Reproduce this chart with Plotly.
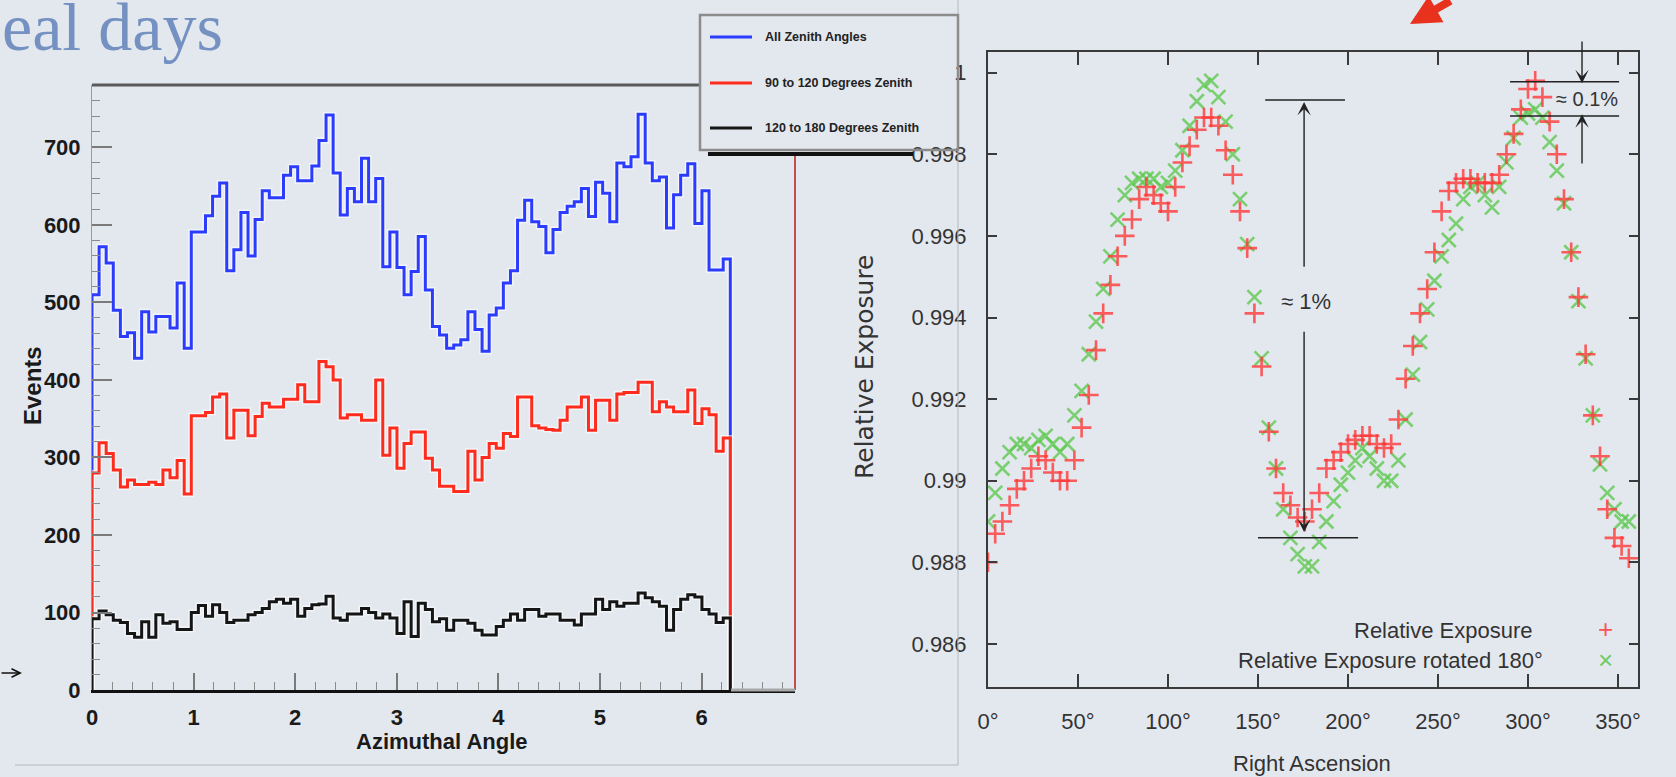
import numpy as np
import plotly.graph_objects as go

W, H = 1676, 777


def px(x):
    return x / W


def py(y):
    return 1 - y / H


# ---------------- Left chart: azimuthal histograms (90 bins over 0..2pi) ----------------
N_BINS = 90
AZ_MAX = 2 * np.pi

events_all = [
    510, 572, 551, 490, 456, 461, 428, 488, 462, 482,
    482, 467, 525, 441, 591, 591, 612, 637, 654, 541,
    568, 616, 560, 607, 644, 635, 635, 664, 675, 657,
    657, 676, 709, 742, 667, 613, 647, 630, 686, 630,
    660, 546, 591, 545, 510, 540, 585, 516, 469, 458,
    441, 445, 452, 488, 465, 437, 484, 493, 525, 541,
    606, 632, 604, 598, 564, 594, 616, 624, 630, 647,
    611, 655, 641, 604, 680, 675, 688, 743, 680, 657,
    662, 596, 639, 664, 679, 602, 644, 542, 542, 556,
]
events_90_120 = [
    280, 319, 305, 284, 262, 271, 265, 265, 268, 265,
    284, 274, 296, 253, 354, 354, 358, 378, 382, 325,
    361, 361, 328, 353, 370, 365, 365, 375, 375, 394,
    372, 372, 424, 417, 400, 351, 355, 355, 348, 348,
    400, 303, 338, 286, 318, 333, 333, 299, 284, 263,
    263, 256, 256, 308, 271, 300, 318, 312, 331, 327,
    378, 378, 341, 338, 336, 335, 348, 365, 365, 378,
    335, 374, 374, 348, 382, 384, 384, 397, 397, 359,
    372, 365, 359, 359, 387, 344, 363, 355, 308, 325,
]
events_120_180 = [
    92, 102, 97, 90, 87, 73, 68, 88, 68, 97,
    86, 88, 78, 78, 100, 109, 95, 110, 100, 87,
    90, 90, 97, 100, 105, 114, 117, 112, 117, 95,
    105, 110, 111, 121, 93, 90, 98, 98, 105, 100,
    93, 98, 93, 73, 114, 69, 112, 104, 88, 92,
    77, 90, 90, 86, 77, 71, 71, 82, 90, 98,
    90, 104, 104, 95, 98, 98, 90, 90, 84, 98,
    98, 117, 104, 114, 108, 112, 112, 125, 119, 114,
    108, 77, 104, 117, 123, 120, 104, 98, 87, 93,
]
hist_names = ["All Zenith Angles", "90 to 120 Degrees Zenith", "120 to 180 Degrees Zenith"]
hist_colors = ["#2b3cff", "#ff2b1c", "#151515"]

# ---------------- Right chart: relative exposure vs right ascension ----------------
ra_deg = list(range(0, 360, 4))
rel_exposure = [
    0.9880, 0.9887, 0.9890, 0.9894, 0.9898, 0.9900, 0.9903, 0.9906, 0.9905, 0.9902,
    0.9900, 0.9900, 0.9905, 0.9913, 0.9921, 0.9932, 0.9941, 0.9948, 0.9955, 0.9960,
    0.9964, 0.9969, 0.9972, 0.9970, 0.9968, 0.9966, 0.9972, 0.9978, 0.9982, 0.9986,
    0.9989, 0.9989, 0.9987, 0.9981, 0.9975, 0.9966, 0.9957, 0.9941, 0.9928, 0.9912,
    0.9903, 0.9897, 0.9894, 0.9891, 0.9890, 0.9893, 0.9897, 0.9903, 0.9905, 0.9907,
    0.9909, 0.9910, 0.9911, 0.9911, 0.9909, 0.9908, 0.9909, 0.9915, 0.9925, 0.9933,
    0.9941, 0.9947, 0.9956, 0.9966, 0.9971, 0.9973, 0.9974, 0.9974, 0.9973, 0.9973,
    0.9973, 0.9975, 0.9980, 0.9985, 0.9991, 0.9996, 0.9998, 0.9994, 0.9988, 0.9980,
    0.9969, 0.9956, 0.9945, 0.9931, 0.9916, 0.9906, 0.9893, 0.9886, 0.9884, 0.9881,
]
rel_exposure_rot = [
    0.9890, 0.9897, 0.9903, 0.9907, 0.9909, 0.9909, 0.9908, 0.9910, 0.9911, 0.9909,
    0.9907, 0.9909, 0.9916, 0.9922, 0.9931, 0.9939, 0.9947, 0.9955, 0.9964, 0.9970,
    0.9973, 0.9974, 0.9974, 0.9974, 0.9972, 0.9973, 0.9976, 0.9981, 0.9987, 0.9993,
    0.9997, 0.9998, 0.9994, 0.9988, 0.9980, 0.9969, 0.9958, 0.9945, 0.9930, 0.9913,
    0.9903, 0.9893, 0.9886, 0.9882, 0.9879, 0.9879, 0.9885, 0.9890, 0.9895, 0.9899,
    0.9902, 0.9905, 0.9908, 0.9906, 0.9903, 0.9900, 0.9900, 0.9905, 0.9915, 0.9926,
    0.9934, 0.9942, 0.9949, 0.9955, 0.9959, 0.9963, 0.9969, 0.9972, 0.9973, 0.9970,
    0.9967, 0.9972, 0.9978, 0.9984, 0.9989, 0.9990, 0.9991, 0.9989, 0.9983, 0.9976,
    0.9968, 0.9956, 0.9944, 0.9930, 0.9916, 0.9904, 0.9897, 0.9893, 0.9890, 0.9890,
]
ra_ticks = [0, 50, 100, 150, 200, 250, 300, 350]
ra_ticktext = ["0°", "50°", "100°", "150°", "200°", "250°", "300°", "350°"]
exp_ticks = [0.986, 0.988, 0.99, 0.992, 0.994, 0.996, 0.998, 1.0]
exp_ticktext = ["0.986", "0.988", "0.99", "0.992", "0.994", "0.996", "0.998", "1"]

LS = "Liberation Sans, Arial, sans-serif"
BG = "#e3e8ef"

fig = go.Figure()

# histograms (step lines)
edges = np.linspace(0, AZ_MAX, N_BINS + 1)
for name, vals, col in zip(hist_names, [events_all, events_90_120, events_120_180], hist_colors):
    xs = [0.0] + list(edges) + [edges[-1]]
    ys = [0] + list(vals) + [vals[-1], 0]
    fig.add_trace(go.Scatter(x=xs, y=ys, mode="lines", line=dict(shape="hv", width=6, color="rgba(255,255,255,0.55)"),
                             hoverinfo="skip", showlegend=False, xaxis="x", yaxis="y"))
    fig.add_trace(go.Scatter(x=xs, y=ys, mode="lines", name=name, line=dict(shape="hv", width=3, color=col),
                             showlegend=False, xaxis="x", yaxis="y"))

# exposure markers
fig.add_trace(go.Scatter(x=ra_deg, y=rel_exposure_rot, mode="markers", name="Relative Exposure rotated 180°",
                         marker=dict(symbol="x-thin", size=14, line=dict(width=2.6, color="rgba(95,200,80,0.8)")),
                         showlegend=False, xaxis="x2", yaxis="y2"))
fig.add_trace(go.Scatter(x=ra_deg, y=rel_exposure, mode="markers", name="Relative Exposure",
                         marker=dict(symbol="cross-thin", size=14, line=dict(width=2.6, color="rgba(255,55,55,0.8)")),
                         showlegend=False, xaxis="x2", yaxis="y2"))

left_x_max = 6.92
left_y_max = 780.6

shapes = []
# left frame pieces
shapes.append(dict(type="line", xref="paper", yref="paper", x0=px(92), x1=px(700), y0=py(85), y1=py(85),
                   line=dict(color="#5a5a5a", width=3)))
shapes.append(dict(type="line", xref="paper", yref="paper", x0=px(795), x1=px(795), y0=py(155), y1=py(690),
                   line=dict(color="#c0504d", width=2)))
shapes.append(dict(type="line", xref="paper", yref="paper", x0=px(731), x1=px(795), y0=py(690), y1=py(690),
                   line=dict(color="#a9a9a9", width=3)))
# left image border
shapes.append(dict(type="line", xref="paper", yref="paper", x0=px(958), x1=px(958), y0=py(0), y1=py(765),
                   line=dict(color="#b2b8c0", width=1)))
shapes.append(dict(type="line", xref="paper", yref="paper", x0=px(15), x1=px(958), y0=py(765), y1=py(765),
                   line=dict(color="#b2b8c0", width=1)))
# legend box (left chart)
shapes.append(dict(type="rect", xref="paper", yref="paper", x0=px(700), x1=px(958), y0=py(150), y1=py(15),
                   line=dict(color="#8c8c8c", width=2.5), fillcolor="rgba(0,0,0,0)"))
shapes.append(dict(type="line", xref="paper", yref="paper", x0=px(708), x1=px(913), y0=py(154), y1=py(154),
                   line=dict(color="#111111", width=4)))
for yy, col in zip([37, 83, 128], hist_colors):
    shapes.append(dict(type="line", xref="paper", yref="paper", x0=px(710), x1=px(752), y0=py(yy), y1=py(yy),
                       line=dict(color=col, width=3)))
# right chart annotation guide lines
shapes.append(dict(type="line", xref="x2", yref="y2", x0=154, x1=198.3, y0=0.99933, y1=0.99933,
                   line=dict(color="#222", width=1.5)))
shapes.append(dict(type="line", xref="x2", yref="y2", x0=150, x1=205.6, y0=0.98860, y1=0.98860,
                   line=dict(color="#222", width=1.5)))
shapes.append(dict(type="line", xref="x2", yref="y2", x0=290, x1=350.6, y0=0.99978, y1=0.99978,
                   line=dict(color="#222", width=1.5)))
shapes.append(dict(type="line", xref="x2", yref="y2", x0=290, x1=350.6, y0=0.99894, y1=0.99894,
                   line=dict(color="#222", width=1.5)))

ann = []


def text_ann(text, x, y, size, color="#333", xanchor="center", yanchor="middle", angle=0,
             family=LS, weight="normal", xref="paper", yref="paper"):
    ann.append(dict(text=text, x=x, y=y, xref=xref, yref=yref, xanchor=xanchor, yanchor=yanchor,
                    textangle=angle, showarrow=False,
                    font=dict(family=family, size=size, color=color, weight=weight)))


text_ann("eal days", px(0), py(27), 68, color="#7491c2", xanchor="left", family="Liberation Serif, serif")
# left arrow
ann.append(dict(text="", x=px(22), y=py(673), xref="paper", yref="paper", ax=-22, ay=0, showarrow=True,
                arrowhead=5, arrowsize=1.3, arrowwidth=1.3, arrowcolor="#111"))
# red arrow at top
ann.append(dict(text="", x=px(1410), y=py(24), xref="paper", yref="paper", ax=42, ay=-36, showarrow=True,
                arrowhead=2, arrowsize=0.75, arrowwidth=8, arrowcolor="#e8321e"))
# left chart titles
text_ann("Events", px(32), py(386), 24, color="#1a1a1a", angle=-90, weight="bold")
text_ann("Azimuthal Angle", px(442), py(741), 22, color="#1a1a1a", weight="bold")
for yy, name in zip([37, 83, 128], hist_names):
    text_ann(name, px(763), py(yy), 12.5, color="#222", xanchor="left", weight="bold")
# right chart titles
text_ann("Relative Exposure", px(864), py(367), 25, angle=-90, family="DejaVu Sans, sans-serif")
text_ann("Right Ascension", px(1312), py(763), 22)
# right chart legend
text_ann("Relative Exposure", px(1535), py(630), 22, xanchor="right")
text_ann("Relative Exposure rotated 180°", px(1545), py(660), 22, xanchor="right")
text_ann("+", px(1605), py(629), 26, color="rgba(255,60,60,0.9)")
text_ann("×", px(1605), py(660), 26, color="rgba(95,200,80,0.9)")
# right chart ~1% and ~0.1% labels
text_ann("≈ 1%", 176.7, 0.99438, 22, xref="x2", yref="y2")
text_ann("≈ 0.1%", 332.5, 0.99936, 20, xref="x2", yref="y2")
arrow_specs = [
    (175.6, 0.99928, 175.6, 0.99521),
    (175.6, 0.98874, 175.6, 0.99369),
    (330.0, 0.99974, 330.0, 1.00080),
    (330.0, 0.99898, 330.0, 0.99774),
]
for hx, hy, tx, ty in arrow_specs:
    ann.append(dict(text="", x=hx, y=hy, ax=tx, ay=ty, xref="x2", yref="y2", axref="x2", ayref="y2",
                    showarrow=True, arrowhead=3, arrowsize=1.6, arrowwidth=1.4, arrowcolor="#222"))

fig.update_layout(
    width=W, height=H, autosize=False,
    margin=dict(l=0, r=0, t=0, b=0, pad=0),
    paper_bgcolor=BG, plot_bgcolor="rgba(0,0,0,0)",
    showlegend=False,
    shapes=shapes,
    annotations=ann,
    xaxis=dict(domain=[px(92), px(795)], range=[0, left_x_max], showgrid=False, zeroline=False, automargin=False,
               showline=True, linecolor="#111", linewidth=3,
               ticks="inside", ticklen=17, tickwidth=1.5, tickcolor="#7a7a7a", tick0=0, dtick=1,
               minor=dict(ticks="inside", ticklen=8, tickwidth=1.2, tickcolor="#8a8a8a", dtick=0.2, showgrid=False),
               tickfont=dict(family=LS, size=22, color="#1a1a1a", weight="bold"), ticklabelstandoff=6),
    yaxis=dict(domain=[py(690), py(85)], range=[0, left_y_max], showgrid=False, zeroline=False, automargin=False,
               showline=True, linecolor="#9a9a9a", linewidth=1,
               ticks="inside", ticklen=20, tickwidth=1.5, tickcolor="#7a7a7a", tick0=0, dtick=100,
               minor=dict(ticks="inside", ticklen=8, tickwidth=1.2, tickcolor="#8a8a8a", dtick=20, showgrid=False),
               tickfont=dict(family=LS, size=22, color="#1a1a1a", weight="bold"), ticklabelstandoff=6),
    xaxis2=dict(domain=[px(988), px(1638)], range=[0, 361.1], anchor="y2", showgrid=False, zeroline=False,
                automargin=False, showline=True, mirror="ticks", linecolor="#3a3a3a", linewidth=2,
                ticks="inside", ticklen=13, tickwidth=1.5, tickcolor="#3a3a3a",
                tickvals=ra_ticks, ticktext=ra_ticktext,
                tickfont=dict(family=LS, size=22, color="#333"), ticklabelstandoff=14),
    yaxis2=dict(domain=[py(687), py(52)], range=[0.984944, 1.000507], anchor="x2", showgrid=False, zeroline=False,
                automargin=False, showline=True, mirror="ticks", linecolor="#3a3a3a", linewidth=2,
                ticks="inside", ticklen=9, tickwidth=1.5, tickcolor="#3a3a3a",
                tickvals=exp_ticks, ticktext=exp_ticktext,
                tickfont=dict(family=LS, size=22, color="#333"), ticklabelstandoff=15),
)

fig.write_html("out.html", config={"displayModeBar": False},
               post_script="document.body.style.margin='0';document.body.style.padding='0';"
                           "document.body.style.overflow='hidden';document.body.style.background='#e3e8ef';")
